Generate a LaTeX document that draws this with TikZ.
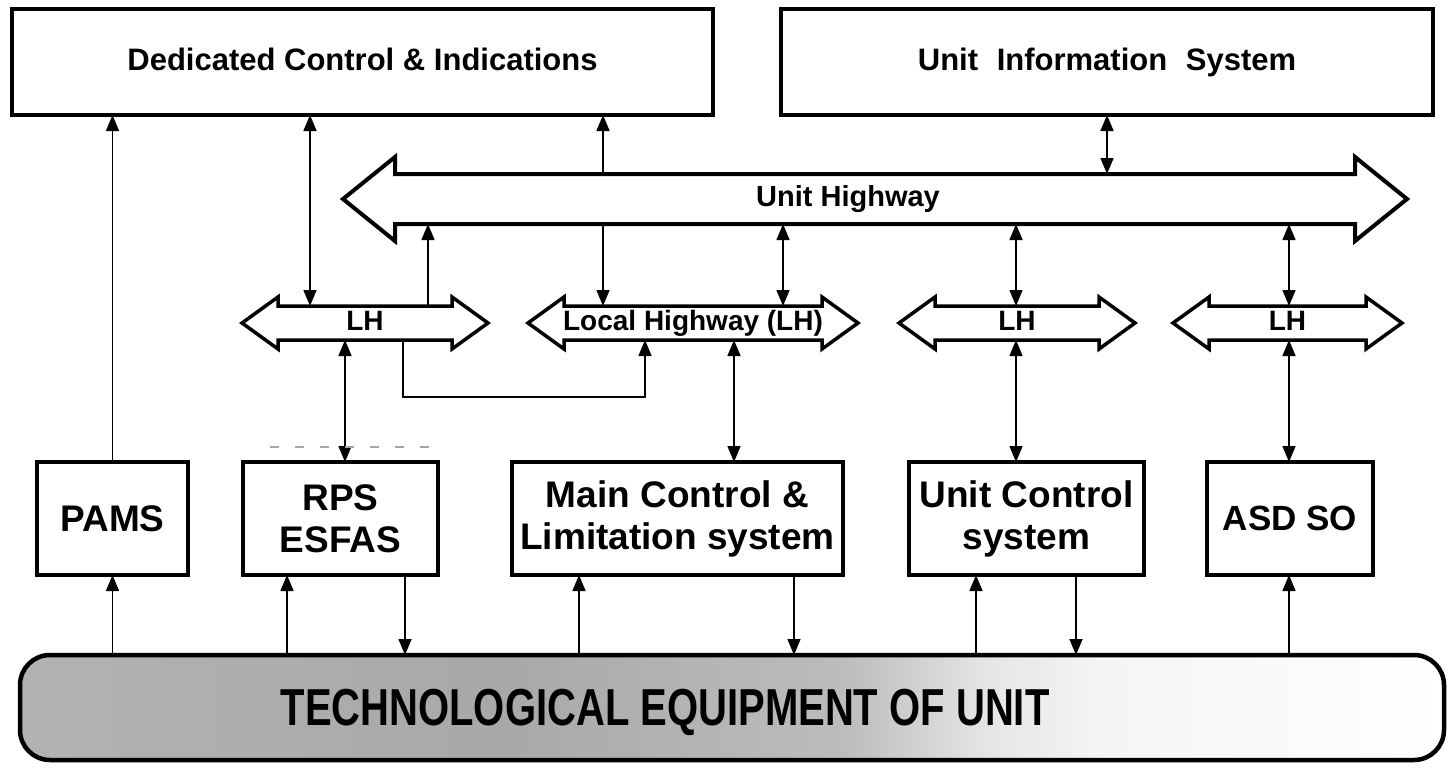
\documentclass[tikz,border=0pt]{standalone}
\usepackage{fontspec}
\setmainfont{Liberation Sans}
\usetikzlibrary{arrows.meta}
\pgfdeclarehorizontalshading{techshade}{100bp}{color(0bp)=(black!30); color(25bp)=(black!30); color(42bp)=(black!34); color(54bp)=(black!26); color(59bp)=(black!10); color(63bp)=(black!4); color(75bp)=(white); color(100bp)=(white)}
\newcommand\hwarrow[9]{%
  % #1 name, #2 cx, #3 cy, #4 half length, #5 head length, #6 half shaft, #7 half head, #8 line width, #9 text
  \draw[hwline, line width=#8] ({#2-#4},#3) -- ({#2-#4+#5},{#3-#7}) -- ({#2-#4+#5},{#3-#6}) -- ({#2+#4-#5},{#3-#6}) -- ({#2+#4-#5},{#3-#7}) -- ({#2+#4},#3) -- ({#2+#4-#5},{#3+#7}) -- ({#2+#4-#5},{#3+#6}) -- ({#2-#4+#5},{#3+#6}) -- ({#2-#4+#5},{#3+#7}) -- cycle;
  \pgfmathsetmacro\hwW{2*(#4-#5)}%
  \pgfmathsetmacro\hwH{2*#6}%
  \node[shaft, minimum width=\hwW pt, minimum height=\hwH pt] (#1) at (#2,#3) {#9};%
}
\begin{document}
\begin{tikzpicture}[x=1pt,y=-1pt,
  sysbox/.style={draw, line width=3.5pt, inner sep=0pt, outer sep=0pt, align=center, font=\bfseries\fontsize{37}{42}\selectfont},
  topbox/.style={sysbox, font=\bfseries\fontsize{31}{36}\selectfont, text height=23pt, text depth=6pt},
  shaft/.style={inner sep=0pt, outer sep=0pt, font=\bfseries\fontsize{28}{30}\selectfont, text height=20pt, text depth=5pt},
  hwline/.style={line join=miter, fill=white},
  link/.style={line width=1.5pt},
  oneway/.style={link, -{Triangle[width=13pt,length=16pt]}},
  twoway/.style={link, {Triangle[width=13pt,length=16pt]}-{Triangle[width=13pt,length=16pt]}},
  faint/.style={gray!70, line width=1.2pt, dash pattern=on 9pt off 16pt}]
\useasboundingbox (0,0) rectangle (1451,768);

% top boxes
\node[topbox, minimum width=701pt, minimum height=106pt] (ded) at (362.5,62) {Dedicated Control \& Indications};
\node[topbox, minimum width=652pt, minimum height=106pt] (uis) at (1107,62) {Unit\hspace{0.6em}Information\hspace{0.6em}System};

% highways
\hwarrow{uh}{875}{199}{532}{52}{25}{42}{4pt}{}
\node[shaft, font=\bfseries\fontsize{29}{31}\selectfont] (uhlabel) at (848,199) {Unit Highway};
\hwarrow{lh1}{365}{323}{123}{36}{17}{26}{3.5pt}{LH}
\hwarrow{lh2}{693}{323}{165}{36}{17}{26}{3.5pt}{Local Highway (LH)}
\hwarrow{lh3}{1017}{323}{118}{36}{17}{26}{3.5pt}{LH}
\hwarrow{lh4}{1287.5}{323}{114.5}{36}{17}{26}{3.5pt}{LH}

% bottom boxes
\node[sysbox, minimum width=151pt, minimum height=113pt] (pams) at (112.5,518.5) {PAMS};
\node[sysbox, minimum width=195pt, minimum height=113pt] (rps) at (340.5,518.5) {RPS\\ESFAS};
\node[sysbox, minimum width=331pt, minimum height=113pt] (main) at (677.5,518.5) {Main Control \&\\Limitation system};
\node[sysbox, minimum width=235pt, minimum height=113pt] (ucs) at (1026.5,518.5) {Unit Control\\system};
\node[sysbox, minimum width=166pt, minimum height=113pt, font=\bfseries\fontsize{35}{40}\selectfont] (asd) at (1290,518.5) {ASD SO};

% technological equipment
\node[draw, line width=4.5pt, rounded corners=30pt, shade, shading=techshade, inner sep=0pt, outer sep=0pt, minimum width=1424pt, minimum height=105pt] (tech) at (732,707.5) {};
\node[inner sep=0pt, font=\bfseries\fontsize{40}{44}\selectfont] (techlabel) at (665,712) {\scalebox{1}[1.3]{TECHNOLOGICAL EQUIPMENT OF UNIT}};

% x positions
\coordinate (c112) at (112.5,0);
\coordinate (c287) at (287,0);
\coordinate (c310) at (310,0);
\coordinate (c345) at (345,0);
\coordinate (c403) at (403,0);
\coordinate (c405) at (405,0);
\coordinate (c428) at (428,0);
\coordinate (c579) at (579,0);
\coordinate (c603) at (603,0);
\coordinate (c645) at (645,0);
\coordinate (c734) at (734,0);
\coordinate (c783) at (783,0);
\coordinate (c794) at (794,0);
\coordinate (c976) at (976,0);
\coordinate (c1016) at (1016,0);
\coordinate (c1076) at (1076,0);
\coordinate (c1107) at (1107,0);
\coordinate (c1289) at (1289,0);
\coordinate (jn) at (0,397);
\coordinate (dashA) at (270,447);
\coordinate (dashB) at (433,447);

% upper connectors
\draw[oneway] (pams.north) -- (ded.south -| c112);
\draw[twoway] (ded.south -| c310) -- (lh1.north -| c310);
\draw[oneway] (uh.north -| c603) -- (ded.south -| c603);
\draw[oneway] (uh.south -| c603) -- (lh2.north -| c603);
\draw[twoway] (uis.south -| c1107) -- (uh.north -| c1107);
\draw[oneway] (lh1.north -| c428) -- (uh.south -| c428);
\draw[twoway] (uh.south -| c783) -- (lh2.north -| c783);
\draw[twoway] (uh.south -| c1016) -- (lh3.north -| c1016);
\draw[twoway] (uh.south -| c1289) -- (lh4.north -| c1289);

% local highway to systems
\draw[twoway] (lh1.south -| c345) -- (rps.north -| c345);
\draw[oneway] (lh1.south -| c403) -- (jn -| c403) -- (jn -| c645) -- (lh2.south -| c645);
\draw[twoway] (lh2.south -| c734) -- (main.north -| c734);
\draw[twoway] (lh3.south -| c1016) -- (ucs.north -| c1016);
\draw[twoway] (lh4.south -| c1289) -- (asd.north -| c1289);
\draw[faint] (dashA) -- (dashB);

% equipment to systems
\draw[oneway] (tech.north -| c112) -- (pams.south -| c112);
\draw[oneway] (tech.north -| c287) -- (rps.south -| c287);
\draw[oneway] (rps.south -| c405) -- (tech.north -| c405);
\draw[oneway] (tech.north -| c579) -- (main.south -| c579);
\draw[oneway] (main.south -| c794) -- (tech.north -| c794);
\draw[oneway] (tech.north -| c976) -- (ucs.south -| c976);
\draw[oneway] (ucs.south -| c1076) -- (tech.north -| c1076);
\draw[oneway] (tech.north -| c1289) -- (asd.south -| c1289);
\end{tikzpicture}
\end{document}
